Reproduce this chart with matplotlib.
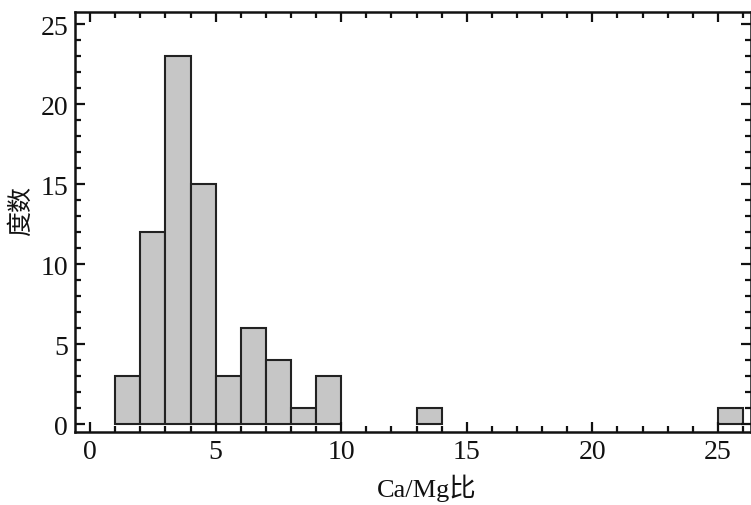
import matplotlib.pyplot as plt
from matplotlib.ticker import MultipleLocator

# histogram of Ca/Mg ratio, bins of width 1
bin_left = [1, 2, 3, 4, 5, 6, 7, 8, 9, 13, 25]
counts = [3, 12, 23, 15, 3, 6, 4, 1, 3, 1, 1]
bin_width = 1

plt.rcParams["font.family"] = ["Liberation Serif", "Noto Sans CJK SC"]

fig = plt.figure(figsize=(7.51, 5.06), dpi=100)
ax = fig.add_axes([0.0999, 0.144, 0.8995, 0.830])

ax.bar(bin_left, counts, width=bin_width, align="edge",
       color="#c6c6c6", edgecolor="#222222", linewidth=1.5)

ax.set_xlim(-0.6, 26.3)
ax.set_ylim(-0.5, 25.75)
ax.xaxis.set_major_locator(MultipleLocator(5))
ax.xaxis.set_minor_locator(MultipleLocator(1))
ax.yaxis.set_major_locator(MultipleLocator(5))
ax.yaxis.set_minor_locator(MultipleLocator(1))
ax.tick_params(which="both", direction="in", top=True, right=True,
               width=1.6, color="#111111", labelsize=20, labelcolor="#111111")
ax.tick_params(which="major", length=7, pad=5)
ax.tick_params(which="minor", length=4)
for s in ax.spines.values():
    s.set_linewidth(1.8)
    s.set_color("#111111")

ax.set_xlabel("Ca/Mg比", fontsize=19, color="#111111")
ax.set_ylabel("度数", fontsize=18, color="#111111")
ax.xaxis.set_label_coords(0.52, -0.098)
ax.yaxis.set_label_coords(-0.062, 0.53)

fig.savefig("out.png", dpi=100)
